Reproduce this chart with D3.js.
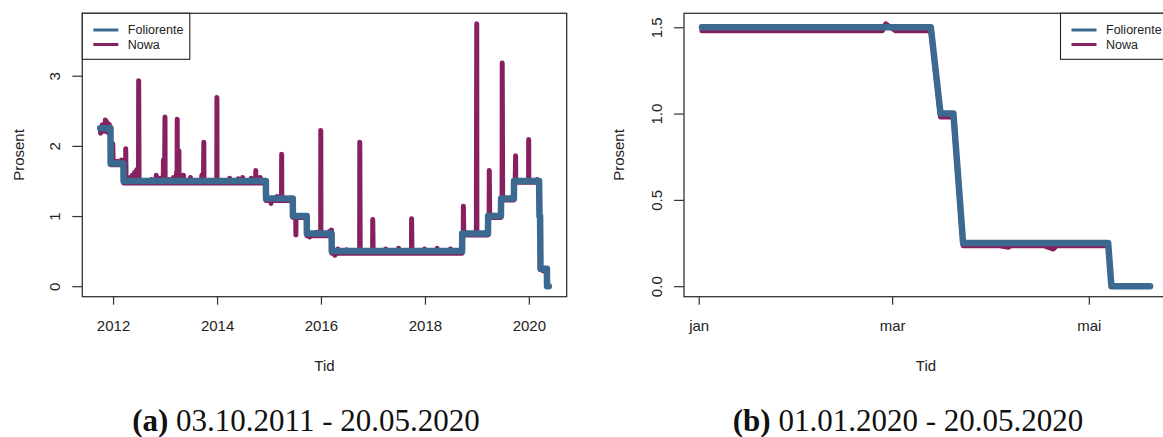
<!DOCTYPE html>
<html>
<head>
<meta charset="utf-8">
<script src="https://cdn.jsdelivr.net/npm/d3@7"></script>
<style>
  html, body { margin: 0; padding: 0; background: #fff; }
  svg { display: block; }
  text { font-family: "Liberation Sans", Arial, sans-serif; fill: #222; }
  .cap { font-family: "Liberation Serif", "Times New Roman", serif; fill: #111; }
</style>
</head>
<body>
<svg id="fig" width="1163" height="437"></svg>
<script>
// Policy rate (foliorente): effective date of each level and the rate in percent
const folioDates = ["2011-10-03","2011-12-15","2012-03-15","2014-12-11","2015-06-18","2015-09-24",
                    "2016-03-17","2018-09-20","2019-03-21","2019-06-20","2019-09-19","2020-03-16",
                    "2020-03-23","2020-05-08"];
const folioRates = [2.25, 1.75, 1.50, 1.25, 1.00, 0.75, 0.50, 0.75, 1.00, 1.25, 1.50, 1.00, 0.25, 0.00];

// NOWA: typical level within each policy-rate period
const nowaLevelDates = folioDates;
const nowaLevels = [2.26, 1.73, 1.47, 1.22, 0.98, 0.72, 0.47, 0.73, 0.98, 1.23, 1.48, 0.98, 0.235, 0.00];

// NOWA: single-day deviations from the level (mostly month and quarter ends)
const nowaEventDates = [
  "2011-10-05","2011-10-18","2011-10-31","2011-11-08","2011-11-15","2011-11-24","2011-12-05",
  "2011-12-30","2012-01-31","2012-02-29","2012-03-30","2012-04-30","2012-05-15","2012-05-31",
  "2012-06-15","2012-06-29","2012-08-31","2012-09-28","2012-10-31","2012-11-30","2012-12-20",
  "2012-12-31","2013-01-31","2013-02-28","2013-03-22","2013-03-27","2013-04-08","2013-04-30",
  "2013-05-10","2013-06-28","2013-09-16","2013-09-30","2013-12-31","2014-03-31","2014-05-30",
  "2014-06-30","2014-08-29","2014-09-30","2014-10-31","2015-01-15","2015-02-27","2015-03-31",
  "2015-07-09","2015-10-15","2015-11-30","2015-12-31","2016-02-29","2016-03-15","2016-04-08",
  "2016-04-29","2016-06-30","2016-09-30","2016-12-30","2017-03-31","2017-06-30","2017-09-29",
  "2017-12-29","2018-03-28","2018-06-29","2018-09-28","2018-12-31","2019-02-28","2019-03-29",
  "2019-04-30","2019-06-28","2019-09-30","2019-12-31","2020-02-28","2020-04-06","2020-04-20"];
const nowaEventRates = [
  2.18, 2.30, 2.21, 2.37, 2.35, 2.19, 2.31,
  2.03, 1.78, 1.80, 1.96, 1.55, 1.58, 1.62,
  1.66, 2.93, 1.50, 1.52, 1.58, 1.54, 1.80,
  2.41, 1.52, 1.55, 1.62, 2.38, 1.93, 1.57,
  1.58, 1.55, 1.58, 2.05, 2.69, 1.54, 1.53,
  1.55, 1.54, 1.65, 1.55, 1.18, 1.28, 1.88,
  0.73, 0.70, 0.77, 2.22, 0.78, 0.80, 0.44,
  0.53, 0.52, 2.05, 0.95, 0.53, 0.54, 0.96,
  0.53, 0.54, 0.53, 1.14, 3.74, 0.76, 1.65,
  1.01, 3.18, 1.86, 2.09, 1.52, 0.225, 0.215];

// Periods shown in the two panels
const periodA = ["2011-10-03", "2020-05-20"];
const periodB = ["2020-01-02", "2020-05-20"];

// Axis ticks
const yearTicks = [2012, 2014, 2016, 2018, 2020];
const monthTickDates = ["2020-01-01", "2020-03-01", "2020-05-01"];
const monthTickLabels = ["jan", "mar", "mai"];
const yTicksA = [0, 1, 2, 3];
const yTicksB = [0, 0.5, 1.0, 1.5];

const seriesNames = ["Foliorente", "Nowa"];
const captionsLabel = ["(a)", "(b)"];
const captionsText = ["03.10.2011 - 20.05.2020", "01.01.2020 - 20.05.2020"];

const COL_FOLIO = "#3c6990";
const COL_NOWA = "#86205f";

const parse = d3.timeParse("%Y-%m-%d");

// step to the previous/next business day
function bday(d, step) {
  let t = d3.timeDay.offset(d, step);
  while (t.getDay() === 0 || t.getDay() === 6) t = d3.timeDay.offset(t, step);
  return t;
}

// Daily path from level periods plus one-day deviations, restricted to [from, to]
function buildSeries(levelDates, levelVals, evDates, evVals, from, to) {
  const L = levelDates.map(parse);
  const E = (evDates || []).map(parse);
  const pts = [];
  for (let i = 0; i < L.length; i++) {
    const segStart = L[i];
    const segEnd = i < L.length - 1 ? bday(L[i + 1], -1) : to;
    if (segEnd < from) continue;
    if (segStart > to) break;
    const s = segStart < from ? from : segStart;
    const e = segEnd > to ? to : segEnd;
    const v = levelVals[i];
    pts.push([s, v]);
    E.forEach((ed, k) => {
      if (ed >= s && ed <= e) {
        const a = bday(ed, -1), b = bday(ed, 1);
        if (a > s) pts.push([a, v]);
        pts.push([ed, evVals[k]]);
        if (b < e) pts.push([b, v]);
      }
    });
    pts.push([e, v]);
  }
  return pts;
}

// R-style 4% padding of a range
function pad(a, b) {
  const span = b - a;
  return [a - span * 0.04, b + span * 0.04];
}

const svg = d3.select("#fig");

function panel(opts) {
  const { left, right, top, bottom, period, xTicks, xLabels, yTicks, yFmt, legendSide, caption, captionX, rotLabelX } = opts;
  const from = parse(period[0]), to = parse(period[1]);

  const nowa = buildSeries(nowaLevelDates, nowaLevels, nowaEventDates, nowaEventRates, from, to);
  const folio = buildSeries(folioDates, folioRates, null, null, from, to);

  const xd = pad(+from, +to);
  const x = d3.scaleTime().domain([new Date(xd[0]), new Date(xd[1])]).range([left, right]);
  const ymax = d3.max(nowa.concat(folio), d => d[1]);
  const ymin = d3.min(nowa.concat(folio), d => d[1]);
  const y = d3.scaleLinear().domain(pad(ymin, ymax)).range([bottom, top]);

  const g = svg.append("g");

  const line = d3.line().x(d => x(d[0])).y(d => y(d[1]));
  g.append("path").datum(nowa).attr("d", line)
    .attr("fill", "none").attr("stroke", COL_NOWA).attr("stroke-width", 5)
    .attr("stroke-linejoin", "round").attr("stroke-linecap", "round");
  g.append("path").datum(folio).attr("d", line)
    .attr("fill", "none").attr("stroke", COL_FOLIO).attr("stroke-width", 6.5)
    .attr("stroke-linejoin", "round").attr("stroke-linecap", "round");

  // bottom axis
  const xa = g.append("g").attr("transform", `translate(0,${bottom})`)
    .call(d3.axisBottom(x).tickValues(xTicks).tickFormat((d, i) => xLabels[i]).tickSize(8));
  xa.select(".domain").remove();
  xa.selectAll(".tick line").attr("stroke", "#333").attr("stroke-width", 1.2);
  xa.selectAll(".tick text").attr("y", 34.5).attr("dy", 0)
    .style("font-size", "15px").style("fill", "#222");

  // left axis with labels parallel to the axis
  const ya = g.append("g").attr("transform", `translate(${left},0)`)
    .call(d3.axisLeft(y).tickValues(yTicks).tickFormat(yFmt).tickSize(10));
  ya.select(".domain").remove();
  ya.selectAll(".tick line").attr("stroke", "#333").attr("stroke-width", 1.2);
  ya.selectAll(".tick text")
    .attr("transform", "rotate(-90)")
    .attr("x", 0).attr("y", -22).attr("dy", 0)
    .attr("text-anchor", "middle")
    .style("font-size", "15px").style("fill", "#222");

  // plot frame
  g.append("rect").attr("x", left).attr("y", top)
    .attr("width", right - left).attr("height", bottom - top)
    .attr("fill", "none").attr("stroke", "#333").attr("stroke-width", 1.3);

  // axis titles
  g.append("text").attr("x", (left + right) / 2).attr("y", 370.5)
    .attr("text-anchor", "middle").style("font-size", "15px").text("Tid");
  g.append("text")
    .attr("transform", `translate(${rotLabelX},${(top + bottom) / 2}) rotate(-90)`)
    .attr("text-anchor", "middle").style("font-size", "15px").text("Prosent");

  // legend
  const lw = 107.5, lh = 46;
  const lx = legendSide === "left" ? left : right - lw;
  const lg = g.append("g").attr("transform", `translate(${lx},${top})`);
  lg.append("rect").attr("width", lw).attr("height", lh)
    .attr("fill", "#fff").attr("stroke", "#222").attr("stroke-width", 1.1);
  [COL_FOLIO, COL_NOWA].forEach((c, i) => {
    const yy = 16.7 + i * 14.5;
    lg.append("line").attr("x1", 11).attr("x2", 36).attr("y1", yy).attr("y2", yy)
      .attr("stroke", c).attr("stroke-width", 3);
    lg.append("text").attr("x", 45.5).attr("y", yy + 4.3)
      .style("font-size", "12.5px").text(seriesNames[i]);
  });

  // caption below the panel
  const cap = svg.append("text").attr("class", "cap")
    .attr("x", captionX).attr("y", 431).attr("text-anchor", "middle")
    .style("font-size", "31px");
  cap.append("tspan").style("font-weight", "bold").text(captionsLabel[caption]);
  cap.append("tspan").text(" " + captionsText[caption]);
}

panel({
  left: 82.3, right: 566.7, top: 13.3, bottom: 296.7,
  period: periodA,
  xTicks: yearTicks.map(yr => new Date(yr, 0, 1)),
  xLabels: yearTicks.map(String),
  yTicks: yTicksA, yFmt: d3.format("d"),
  legendSide: "left", caption: 0, captionX: 306, rotLabelX: 24
});

panel({
  left: 684, right: 1168, top: 13.3, bottom: 296.7,
  period: periodB,
  xTicks: monthTickDates.map(parse),
  xLabels: monthTickLabels,
  yTicks: yTicksB, yFmt: d3.format(".1f"),
  legendSide: "right", caption: 1, captionX: 908, rotLabelX: 624
});
</script>
</body>
</html>
